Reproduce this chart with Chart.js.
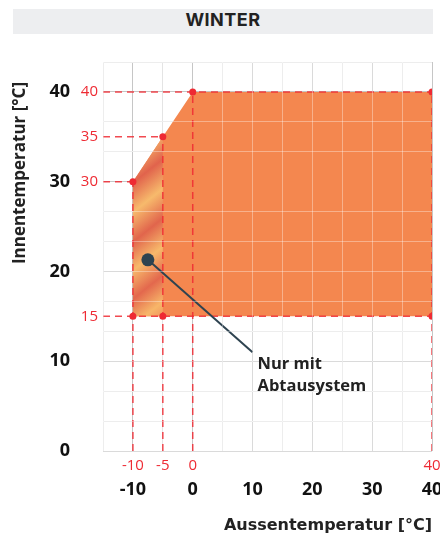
<!DOCTYPE html>
<html>
<head>
<meta charset="utf-8">
<script src="https://cdn.jsdelivr.net/npm/chart.js@4/dist/chart.umd.min.js"></script>
<style>
  body { margin: 0; background: #fff; }
  #wrap { position: relative; width: 440px; height: 535px; }
  #head {
    position: absolute; left: 13px; top: 9px; width: 420px; height: 25px;
    background: #edeef0; color: #222; text-align: center; line-height: 26px;
    font: bold 18px Inter, sans-serif; letter-spacing: 0.5px;
  }
</style>
</head>
<body>
<div id="wrap">
  <canvas id="c"></canvas>
  <div id="head">WINTER</div>
</div>
<script>
// Einsatzgrenzen (Winter)
const envX = [-10, -10, -5, 0, 40, 40];
const envY = [15, 30, 35, 40, 40, 15];
// Bereich nur mit Abtausystem
const abX = [-10, -10, -5, -5];
const abY = [15, 30, 35, 15];
// rote Eckpunkte
const dotX = [-10, -5, 0, 40, -10, -5, 40];
const dotY = [30, 35, 40, 40, 15, 15, 15];
const redTicksX = [-10, -5, 0, 40];
const redTicksY = [15, 30, 35, 40];
const tickX = [-10, 0, 10, 20, 30, 40];
const tickY = [0, 10, 20, 30, 40];
const noteX = [-7.5, 10];
const noteY = [21.3, 11];
const noteText = ['Nur mit', 'Abtausystem'];
const xMin = -15, xMax = 40, yMin = 0, yMax = 130 / 3;

const RED = '#ee2a33';
Chart.defaults.font.family = "'Open Sans'";

const pts = (xs, ys) => xs.map((x, i) => ({ x, y: ys[i] }));

// gestrichelte Hilfslinien aus den Eckpunkten
const hMax = new Map(), vMax = new Map();
dotX.forEach((x, i) => {
  const y = dotY[i];
  hMax.set(y, Math.max(hMax.has(y) ? hMax.get(y) : -Infinity, x));
  vMax.set(x, Math.max(vMax.has(x) ? vMax.get(x) : -Infinity, y));
});
const guides = [];
hMax.forEach((x, y) => guides.push([{ x: xMin, y }, { x, y }]));
vMax.forEach((y, x) => guides.push([{ x, y: yMin }, { x, y }]));

function stripes(c) {
  const chart = c.chart;
  const sx = chart.scales.x, sy = chart.scales.y;
  if (!chart.chartArea || !sx || !sy) return '#f08a58';
  const x0 = sx.getPixelForValue(abX[0]);
  const y0 = sy.getPixelForValue(Math.max(...abY));
  const h = sy.getPixelForValue(Math.min(...abY)) - y0;
  const k = h * 0.745;
  const g = chart.ctx.createLinearGradient(x0, y0, x0 + 0.8 * k, y0 + k);
  const stops = [
    [0, '#f29a5e'], [0.08, '#f7b86b'], [0.21, '#e1634c'], [0.345, '#f7ba6c'],
    [0.48, '#e1654c'], [0.61, '#f7b96b'], [0.74, '#e3684d'], [0.86, '#f7b669'], [1, '#ea7750']
  ];
  stops.forEach(s => g.addColorStop(s[0], s[1]));
  return g;
}

const datasets = [
  { data: pts(envX, envY), showLine: true, fill: 'shape', backgroundColor: '#f4874f',
    borderWidth: 0, pointRadius: 0, order: 6 },
  { data: pts(abX, abY), showLine: true, fill: 'shape', backgroundColor: stripes,
    borderWidth: 0, pointRadius: 0, order: 5 }
];
guides.forEach(g => datasets.push({
  data: g, showLine: true, fill: false, borderColor: 'rgba(238,42,51,0.85)', borderWidth: 1.5,
  borderDash: [7, 5], pointRadius: 0, order: 4
}));
datasets.push({ data: pts(dotX, dotY), showLine: false, pointRadius: 3.5,
  pointBackgroundColor: RED, pointBorderWidth: 0, order: 3 });
datasets.push({ data: pts(noteX, noteY), showLine: true, borderColor: '#2e4350', borderWidth: 2,
  pointRadius: [6.5, 0], pointBackgroundColor: '#2e4350', pointBorderWidth: 0, order: 1 });

const isTen = v => Math.abs(v / 10 - Math.round(v / 10)) < 1e-6;
const gridCol = c => (c.tick && isTen(c.tick.value)) ? '#c6c6c6' : '#e4e4e4';
const near = (arr, v) => arr.some(a => Math.abs(a - v) < 1e-6);

const notes = {
  id: 'notes',
  afterDraw(chart) {
    const { ctx, scales: { x, y } } = chart;
    ctx.save();
    ctx.fillStyle = '#222';
    ctx.font = "bold 16.5px 'Open Sans'";
    ctx.textAlign = 'left';
    ctx.textBaseline = 'middle';
    const px = x.getPixelForValue(noteX[1]) + 5;
    const py = y.getPixelForValue(noteY[1]);
    noteText.forEach((t, i) => ctx.fillText(t, px, py + 12 + i * 22));
    ctx.font = "bold 17px 'Open Sans'";
    ctx.translate(20, 173);
    ctx.rotate(-Math.PI / 2);
    ctx.textAlign = 'center';
    ctx.fillText('Innentemperatur [°C]', 0, 0);
    ctx.restore();
  }
};

// helle Gitterlinien über der Fläche (nicht über den roten Grenzlinien)
const overlay = (pos, step, skip) => ({
  type: 'linear', position: pos, weight: 0,
  min: pos === 'bottom' ? xMin : yMin, max: pos === 'bottom' ? xMax : yMax,
  ticks: { display: false, stepSize: step, autoSkip: false },
  grid: { drawTicks: false, z: 1,
    color: c => (c.tick && near(skip, c.tick.value)) ? 'rgba(0,0,0,0)' : 'rgba(255,255,255,0.35)' },
  border: { display: false },
  afterFit: s => { if (pos === 'bottom') s.height = 0; else s.width = 0;
    s.paddingLeft = s.paddingRight = s.paddingTop = s.paddingBottom = 0; }
});

new Chart(document.getElementById('c'), {
  type: 'scatter',
  data: { datasets },
  options: {
    responsive: true,
    maintainAspectRatio: false,
    animation: false,
    layout: { padding: { top: 62, right: 8, left: 0, bottom: 0 } },
    plugins: { legend: { display: false }, tooltip: { enabled: false } },
    scales: {
      x: {
        type: 'linear', position: 'bottom', weight: 2, min: xMin, max: xMax,
        ticks: { stepSize: 5, autoSkip: false, maxRotation: 0, padding: 4, color: '#111',
          font: { size: 18, weight: 'bold' },
          callback: v => tickX.includes(v) ? v : '' },
        grid: { drawTicks: false, color: gridCol },
        border: { display: false },
        title: { display: true, text: 'Aussentemperatur [°C]', align: 'end', color: '#222',
          font: { size: 16, weight: 'bold', family: "'DejaVu Sans'" }, padding: 0 },
        afterFit: s => { s.height = 60; s.paddingLeft = 0; s.paddingRight = 0; }
      },
      x2: {
        type: 'linear', position: 'bottom', weight: 1, min: xMin, max: xMax,
        afterBuildTicks: s => { s.ticks = redTicksX.map(v => ({ value: v })); },
        ticks: { autoSkip: false, maxRotation: 0, padding: 6, color: RED, font: { size: 15 } },
        grid: { display: false, drawTicks: false },
        border: { display: false },
        afterFit: s => { s.height = 24; s.paddingLeft = 0; s.paddingRight = 0; }
      },
      xw: overlay('bottom', 5, dotX),
      y: {
        type: 'linear', position: 'left', weight: 2, min: yMin, max: yMax,
        ticks: { stepSize: 10 / 3, autoSkip: false, padding: 3, color: '#111',
          font: { size: 18, weight: 'bold' },
          callback: v => (isTen(v) && tickY.includes(Math.round(v))) ? Math.round(v) : '' },
        grid: { drawTicks: false, color: gridCol },
        border: { display: false },
        afterFit: s => { s.width = 73; s.paddingTop = 0; s.paddingBottom = 0; }
      },
      y2: {
        type: 'linear', position: 'left', weight: 1, min: yMin, max: yMax,
        afterBuildTicks: s => { s.ticks = redTicksY.map(v => ({ value: v })); },
        ticks: { autoSkip: false, padding: 5, color: RED, font: { size: 15 } },
        grid: { display: false, drawTicks: false },
        border: { display: false },
        afterFit: s => { s.width = 30; s.paddingTop = 0; s.paddingBottom = 0; }
      },
      yw: overlay('left', 10 / 3, dotY)
    }
  },
  plugins: [notes]
});
</script>
</body>
</html>
